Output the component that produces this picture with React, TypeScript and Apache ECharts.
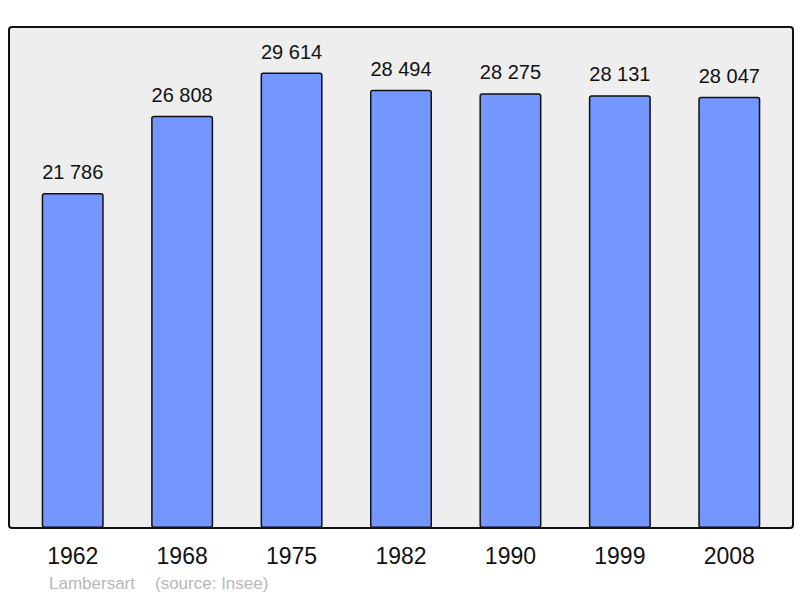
import React, { useEffect, useRef } from "react";
import * as echarts from "echarts";

const years = ["1962", "1968", "1975", "1982", "1990", "1999", "2008"];
const population = [21786, 26808, 29614, 28494, 28275, 28131, 28047];
const footerPlace = "Lambersart";
const footerSource = "(source: Insee)";

const fmt = (v: number) => {
  const s = String(Math.round(v));
  return s.replace(/\B(?=(\d{3})+(?!\d))/g, " ");
};

export default function App() {
  const ref = useRef<HTMLDivElement>(null);
  useEffect(() => {
    if (!ref.current) return;
    const chart = echarts.init(ref.current, null, { renderer: "svg" });
    chart.setOption({
      animation: false,
      backgroundColor: "#ffffff",
      textStyle: { fontFamily: "Liberation Sans, Arial, sans-serif" },
      graphic: [
        {
          type: "rect",
          z: -10,
          silent: true,
          shape: { x: 9, y: 27, width: 784, height: 501, r: 3 },
          style: { fill: "#eeeeee", stroke: "#111111", lineWidth: 2 },
        },
        {
          type: "text",
          left: 49,
          top: 575,
          style: {
            text: footerPlace,
            fill: "#b8b8b8",
            font: "17px 'Liberation Sans', Arial, sans-serif",
          },
        },
        {
          type: "text",
          left: 155,
          top: 575,
          style: {
            text: footerSource,
            fill: "#b8b8b8",
            font: "17px 'Liberation Sans', Arial, sans-serif",
          },
        },
      ],
      grid: { left: 18, right: 16, top: 27, bottom: 70, containLabel: false },
      xAxis: {
        type: "category",
        data: years,
        axisLine: { show: false },
        axisTick: { show: false },
        axisLabel: {
          color: "#111111",
          fontSize: 23,
          margin: 16,
          fontFamily: "Liberation Sans, Arial, sans-serif",
        },
      },
      yAxis: {
        type: "value",
        min: 0,
        max: 32575,
        show: false,
        splitLine: { show: false },
      },
      series: [
        {
          type: "bar",
          data: population,
          barWidth: 62,
          itemStyle: {
            color: "#7396ff",
            borderColor: "#111111",
            borderWidth: 1.5,
            borderRadius: 2,
          },
          label: {
            show: true,
            position: "top",
            distance: 11,
            color: "#111111",
            fontSize: 20,
            fontFamily: "Liberation Sans, Arial, sans-serif",
            formatter: (p: any) => fmt(p.value),
          },
        },
      ],
    });
    return () => chart.dispose();
  }, []);
  return <div ref={ref} style={{ width: 800, height: 598, position: "absolute", left: 0, top: 0 }} />;
}
